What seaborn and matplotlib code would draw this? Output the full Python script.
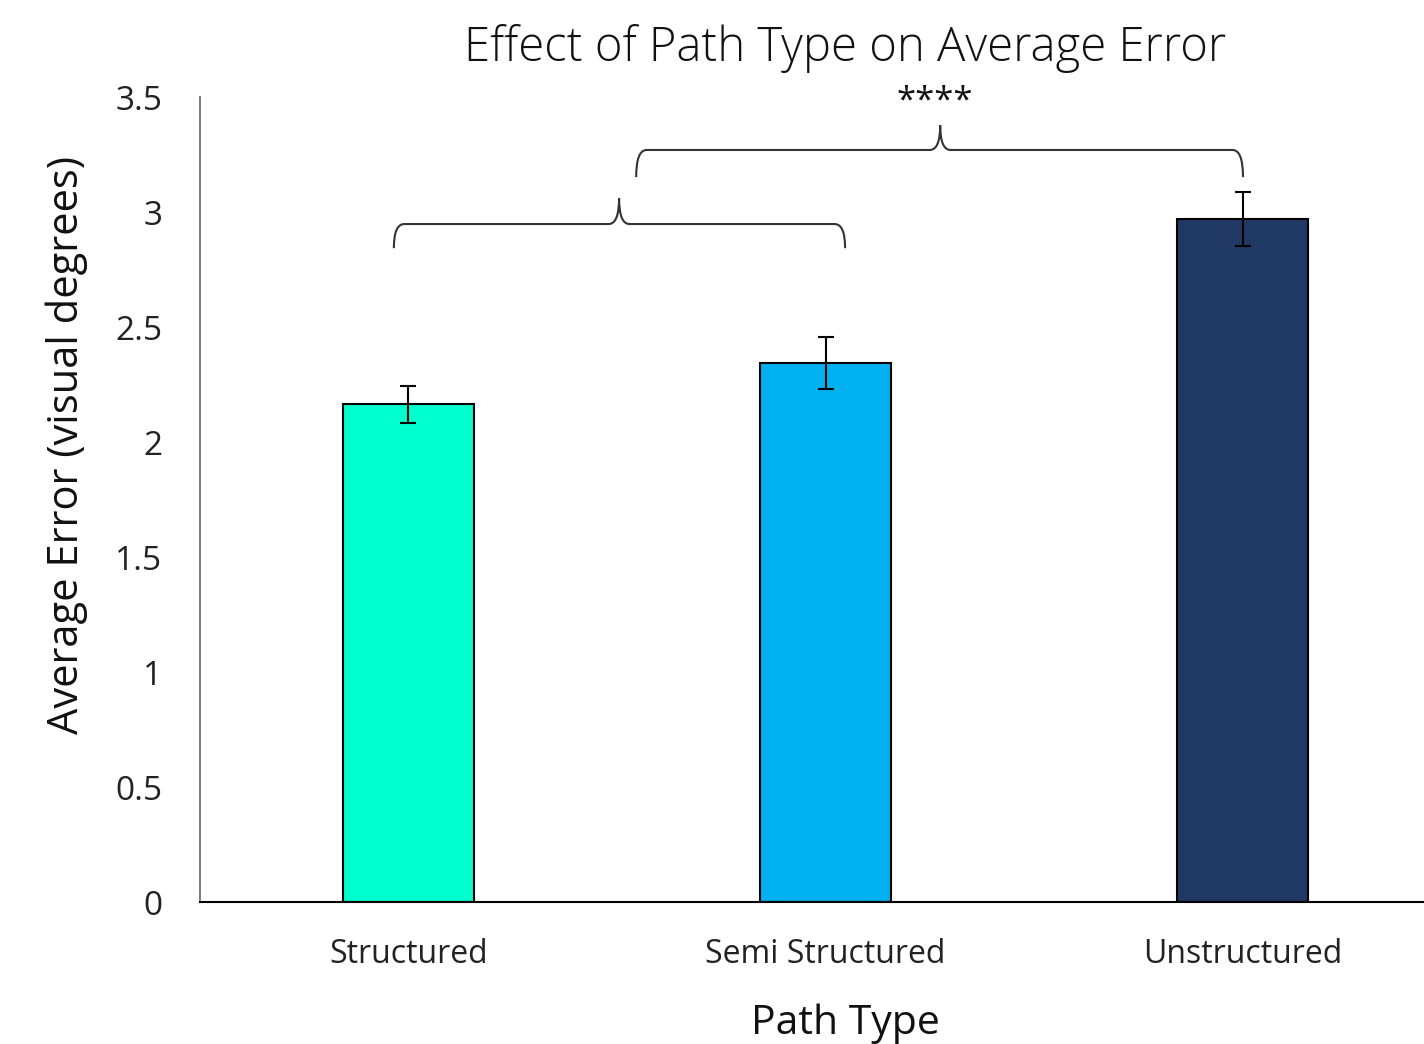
import matplotlib
matplotlib.use("Agg")
import matplotlib.pyplot as plt
from matplotlib.path import Path
from matplotlib.patches import PathPatch
import seaborn as sns
import pandas as pd

categories = ["Structured", "Semi Structured", "Unstructured"]
mean_error = [2.165, 2.343, 2.970]
sem_error = [0.080, 0.112, 0.117]
bar_colors = ["#00FFCC", "#00B0F0", "#203864"]
y_ticks = [0, 0.5, 1, 1.5, 2, 2.5, 3, 3.5]
y_tick_labels = ["0", "0.5", "1", "1.5", "2", "2.5", "3", "3.5"]

sns.set_theme(style="white")
plt.rcParams["font.family"] = ["Open Sans", "DejaVu Sans"]

df = pd.DataFrame({"Path Type": categories, "Error": mean_error})

fig = plt.figure(figsize=(14.24, 10.44), dpi=100)
ax = fig.add_axes([0.1404, 0.136, 0.8596, 0.771])

sns.barplot(data=df, x="Path Type", y="Error", hue="Path Type",
            palette=bar_colors, saturation=1, width=0.314, errorbar=None,
            edgecolor="black", linewidth=1.5, legend=False, ax=ax)
ax.errorbar(range(len(categories)), mean_error, yerr=sem_error, fmt="none",
            ecolor="black", elinewidth=1.5, capsize=6, capthick=1.5)

ax.set_xlim(-0.5, 2.435)
ax.set_ylim(0, 3.5)
ax.set_yticks(y_ticks)
ax.set_yticklabels(y_tick_labels)
ax.tick_params(axis="y", length=0, pad=27, labelsize=24, labelcolor="#222222")
ax.tick_params(axis="x", length=0, pad=26, labelsize=23, labelcolor="#222222")

for side in ["top", "right"]:
    ax.spines[side].set_visible(False)
ax.spines["left"].set_color("#7f7f7f")
ax.spines["left"].set_linewidth(1.5)
ax.spines["bottom"].set_color("black")
ax.spines["bottom"].set_linewidth(1.5)

ax.set_xlabel("Path Type", fontsize=29.5, labelpad=23, color="#111111")
ax.xaxis.label.set_x(0.527)
ax.set_ylabel("Average Error (visual degrees)", fontsize=30,
              labelpad=20, color="#111111")
ax.yaxis.label.set_y(0.568)
ax.set_title("Effect of Path Type on Average Error", fontsize=34,
             fontweight="light", pad=26, color="#111111", x=0.527)


def brace(x0, x1, xt, y_end, y_h, y_tip, dx=0.025):
    verts = [
        (x0, y_end), (x0, y_h), (x0 + dx, y_h),
        (xt - dx, y_h), (xt, y_h), (xt, y_tip),
        (xt, y_h), (xt + dx, y_h),
        (x1 - dx, y_h), (x1, y_h), (x1, y_end),
    ]
    codes = [Path.MOVETO, Path.CURVE3, Path.CURVE3,
             Path.LINETO, Path.CURVE3, Path.CURVE3,
             Path.CURVE3, Path.CURVE3,
             Path.LINETO, Path.CURVE3, Path.CURVE3]
    ax.add_patch(PathPatch(Path(verts, codes), fill=False, edgecolor="#333333",
                           linewidth=1.5, clip_on=False))


brace(-0.035, 1.047, 0.505, 2.843, 2.948, 3.061)
brace(0.546, 2.001, 1.275, 3.152, 3.270, 3.378)
ax.text(1.262, 3.48, "****", ha="center", va="center", fontsize=25, color="#111111",
        clip_on=False)

fig.savefig("out.png", dpi=100)
